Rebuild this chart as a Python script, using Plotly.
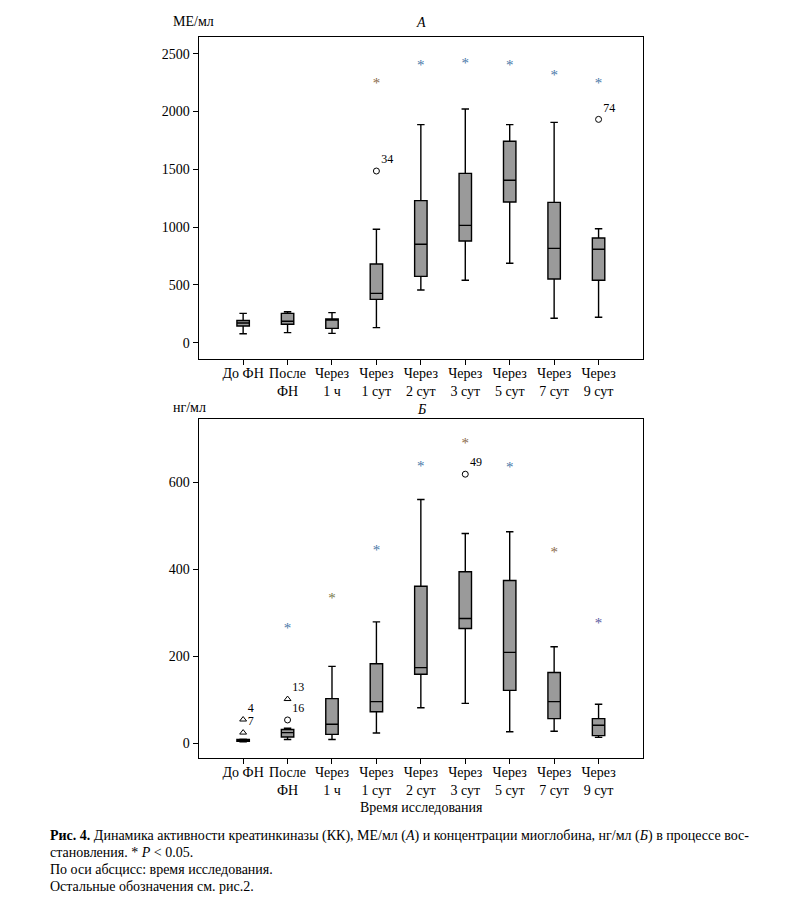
import plotly.graph_objects as go

W, H = 810, 911
OX, OY = 8, 8  # page body margin compensation

categories = ["До ФН", "После<br>ФН", "Через<br>1 ч", "Через<br>1 сут", "Через<br>2 сут",
              "Через<br>3 сут", "Через<br>5 сут", "Через<br>7 сут", "Через<br>9 сут"]

# Panel A: creatine kinase, МЕ/мл
a_low = [78, 87, 81, 130, 456, 540, 687, 211, 220]
a_q1 = [144, 159, 124, 375, 574, 880, 1217, 551, 540]
a_med = [170, 185, 195, 427, 851, 1015, 1405, 816, 808]
a_q3 = [192, 254, 205, 681, 1229, 1465, 1742, 1214, 906]
a_high = [254, 268, 260, 981, 1886, 2022, 1886, 1906, 986]
a_out_idx = [3, 8]
a_out_val = [1485, 1932]
a_out_lbl = ["34", "74"]
a_star_idx = [3, 4, 5, 6, 7, 8]
a_star_val = [2238, 2388, 2405, 2388, 2301, 2238]
a_star_col = ["#8a6a4a", "#4a78a8", "#4a78a8", "#4a78a8", "#4a78a8", "#4a78a8"]

# Panel B: myoglobin, нг/мл
b_low = [4, 9, 9, 24, 82, 92, 27, 28, 14]
b_q1 = [5, 15, 21, 73, 159, 264, 122, 57, 18]
b_med = [7, 25, 44, 96, 174, 287, 209, 96, 42]
b_q3 = [9, 32, 103, 183, 361, 394, 374, 163, 57]
b_high = [10, 35, 177, 279, 560, 482, 486, 222, 90]
b_circ_idx = [1, 5]
b_circ_val = [54, 618]
b_circ_lbl = ["16", "49"]
b_tri_idx = [0, 0, 1]
b_tri_val = [55, 25, 102]
b_tri_lbl = ["4", "7", "13"]
b_star_idx = [1, 2, 3, 4, 5, 6, 7, 8]
b_star_val = [263, 331, 441, 634, 686, 632, 437, 274]
b_star_col = ["#4a78a8", "#7a7a4a", "#4a78a8", "#4a78a8", "#8a6a4a", "#4a78a8", "#8a6a4a", "#5a5aa0"]

FONT = "Liberation Serif"
pos = list(range(len(categories)))

fig = go.Figure()

def add_panel(xa, ya, low, q1, med, q3, high):
    fig.add_trace(go.Box(
        x=pos, q1=q1, median=med, q3=q3, lowerfence=low, upperfence=high,
        xaxis=xa, yaxis=ya, width=0.28, whiskerwidth=0.6,
        fillcolor="#9a9a9a", line=dict(color="black", width=1.4),
        boxpoints=False, showlegend=False, hoverinfo="skip"))

add_panel("x", "y", a_low, a_q1, a_med, a_q3, a_high)
add_panel("x2", "y2", b_low, b_q1, b_med, b_q3, b_high)

lblfont = dict(family=FONT, size=12, color="black")

fig.add_trace(go.Scatter(x=a_out_idx, y=a_out_val, mode="markers+text", text=a_out_lbl,
                         textposition="top right", textfont=lblfont,
                         marker=dict(symbol="circle-open", size=6, color="black", line=dict(width=1)),
                         xaxis="x", yaxis="y", showlegend=False))
fig.add_trace(go.Scatter(x=a_star_idx, y=a_star_val, mode="text", text=["*"] * len(a_star_idx),
                         textposition="middle center",
                         textfont=dict(family=FONT, size=15, color=a_star_col),
                         xaxis="x", yaxis="y", showlegend=False))

fig.add_trace(go.Scatter(x=b_circ_idx, y=b_circ_val, mode="markers+text", text=b_circ_lbl,
                         textposition="top right", textfont=lblfont,
                         marker=dict(symbol="circle-open", size=6, color="black", line=dict(width=1)),
                         xaxis="x2", yaxis="y2", showlegend=False))
fig.add_trace(go.Scatter(x=b_tri_idx, y=b_tri_val, mode="markers+text", text=b_tri_lbl,
                         textposition="top right", textfont=lblfont,
                         marker=dict(symbol="triangle-up-open", size=6, color="black", line=dict(width=1)),
                         xaxis="x2", yaxis="y2", showlegend=False))
fig.add_trace(go.Scatter(x=b_star_idx, y=b_star_val, mode="text", text=["*"] * len(b_star_idx),
                         textposition="middle center",
                         textfont=dict(family=FONT, size=15, color=b_star_col),
                         xaxis="x2", yaxis="y2", showlegend=False))

def fx(px):
    return (px - OX) / W

def fy(py):
    return 1 - (py - OY) / H

xd = [fx(198.7), fx(643)]
ax_common = dict(showline=True, linecolor="black", linewidth=1.3, mirror=True,
                 showgrid=False, zeroline=False, ticks="outside", ticklen=5,
                 tickcolor="black", tickfont=dict(family=FONT, size=14, color="black"))

fig.update_layout(
    width=W, height=H, margin=dict(l=0, r=0, t=0, b=0),
    paper_bgcolor="white", plot_bgcolor="white",
    font=dict(family=FONT, color="black"),
    xaxis=dict(domain=xd, range=[-1, 9], tickmode="array", tickvals=pos, ticktext=categories,
               anchor="y", ticklabelstandoff=-4, **ax_common),
    yaxis=dict(domain=[fy(359), fy(36.7)], range=[-141, 2647],
               tickvals=[0, 500, 1000, 1500, 2000, 2500], anchor="x", **ax_common),
    xaxis2=dict(domain=xd, range=[-1, 9], tickmode="array", tickvals=pos, ticktext=categories,
                anchor="y2", ticklabelstandoff=-4, **ax_common),
    yaxis2=dict(domain=[fy(758.3), fy(419.3)], range=[-34, 744],
                tickvals=[0, 200, 400, 600], anchor="x2", **ax_common),
)

def txt(x, y, s, size=14, xanchor="center", italic=False):
    fig.add_annotation(x=fx(x), y=fy(y), xref="paper", yref="paper", text=s,
                       showarrow=False, xanchor=xanchor, yanchor="middle",
                       font=dict(family=FONT, size=size, color="black",
                                 style="italic" if italic else "normal"))

txt(171, 21, "МЕ/мл", xanchor="left")
txt(421, 22, "А", italic=True)
txt(171, 408, "нг/мл", xanchor="left")
txt(421, 409, "Б", italic=True)
txt(421, 807, "Время исследования")

cap = 14
txt(48, 836, "<b>Рис. 4.</b> Динамика активности креатинкиназы (КК), МЕ/мл (<i>А</i>) и концентрации миоглобина, нг/мл (<i>Б</i>) в процессе вос-",
    size=cap, xanchor="left")
txt(48, 852, "становления. * <i>P</i> &lt; 0.05.", size=cap, xanchor="left")
txt(48, 869, "По оси абсцисс: время исследования.", size=cap, xanchor="left")
txt(48, 886, "Остальные обозначения см. рис.2.", size=cap, xanchor="left")

fig.write_html("out.html")
